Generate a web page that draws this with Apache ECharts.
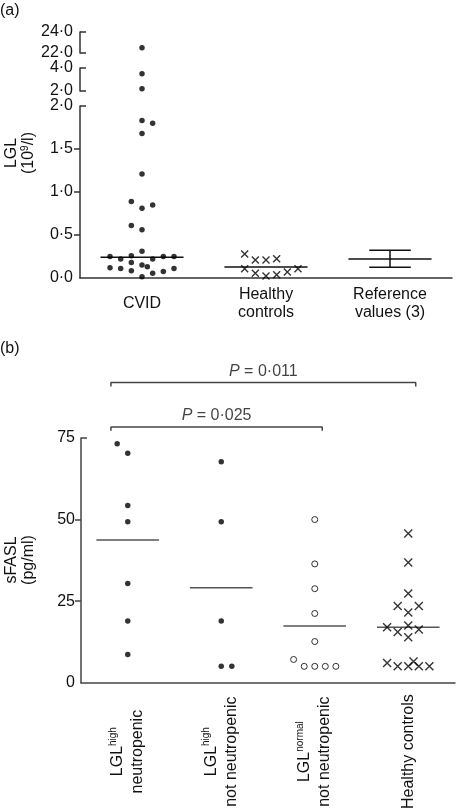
<!DOCTYPE html>
<html><head><meta charset="utf-8">
<script src="https://cdn.jsdelivr.net/npm/echarts@6/dist/echarts.min.js"></script>
<style>html,body{margin:0;padding:0;background:#fff}#c{width:456px;height:812px}</style>
</head><body><div id="c"></div>
<script>
// ---------- Panel (a): LGL counts (10^9/l) ----------
const catsA = ['CVID', 'Healthy\ncontrols', 'Reference\nvalues (3)'];
const lglSegments = [[22, 24], [2, 4], [0, 2]];          // broken y-axis segments
const cvidLGL  = [22.5, 3.5, 2.2, 1.83, 1.80, 1.68, 1.21, 0.89, 0.81, 0.85, 0.61, 0.56, 0.31,
                  0.25, 0.22, 0.26, 0.22, 0.25, 0.25, 0.12, 0.11, 0.18, 0.085, 0.15, 0.13, 0.055, 0.075, 0.11, 0.015];
const cvidSlot = [0, 0, 0, 0, 1, 0, 0, -1, 0, 1, -1, 0, 0,
                  -3, -2, -1, 1, 2, 3, -3, -2, -1, -1, 0, 0.5, 1, 2, 3, 0];
const healthyLGL  = [0.28, 0.21, 0.21, 0.225, 0.108, 0.055, 0.023, 0.038, 0.07, 0.108];
const healthySlot = [-2, -1, 0, 1, -2, -1, 0, 1, 2, 3];
const mediansA = [0.24, 0.128];
const refMean = 0.221, refLow = 0.124, refHigh = 0.322;

// ---------- Panel (b): sFASL (pg/ml) ----------
const catsB = [['LGL', 'high', 'neutropenic'], ['LGL', 'high', 'not neutropenic'],
               ['LGL', 'normal', 'not neutropenic'], ['Healthy controls', '', '']];
const sfaslHighNeutro     = [73.2, 70.3, 54.3, 49.3, 30.4, 18.9, 8.6];
const slotHighNeutro      = [-1, 0, 0, 0, 0, 0, 0];
const sfaslHighNotNeutro  = [67.7, 49.3, 18.9, 5, 5];
const slotHighNotNeutro   = [0, 0, 0, 0, 1];
const sfaslNormalNotNeutro = [50, 36.4, 28.8, 21.2, 12.6, 7.1, 5, 5, 5, 5];
const slotNormalNotNeutro  = [0, 0, 0, 0, 0, -2, -1, 0, 1, 2];
const sfaslHealthy = [45.7, 36.8, 27.3, 23.5, 23.5, 21.5, 17, 17.5, 15.5, 16.3, 13.9, 6.0, 5.0, 5.0, 6.5, 5.0, 5.0];
const slotHealthy  = [0, 0, 0, -1, 1, 0, -2, 0, -1, 1, 0, -2, -1, 0, 0.5, 1, 2];
const mediansB = [43.7, 29.1, 17.4, 17];
const yTicksB = [0, 25, 50, 75];
const pTests = [{from: 0, to: 2, p: '0\u00b7025'}, {from: 0, to: 3, p: '0\u00b7011'}];

// ---------- chart ----------
const FONT = '"Liberation Sans", Arial, Helvetica, sans-serif';
const FS = 16;
const AX = '#333';
const SLOT_A = 0.086, SLOT_B = 0.113, HALF = 0.335;
const crossPath = 'path://M0 0L10 10M10 0L0 10';
const fmtA = v => v.toFixed(1).replace('.', '\u00b7');
const pts = (vals, slots, gi, w) => vals.map((v, i) => [gi + slots[i] * w, v]);
const hline = (gi, v, h) => [[gi - h, v], [gi + h, v]];

const axisLineStyle = {color: AX, width: 1.5};
function segYAxis(gi, seg, opts) {
  return Object.assign({
    gridIndex: gi, type: 'value', position: 'left', min: seg[0], max: seg[1], interval: 2,
    axisLine: {show: true, onZero: false, lineStyle: axisLineStyle},
    axisTick: {show: true, inside: true, length: 6, lineStyle: axisLineStyle},
    axisLabel: {formatter: fmtA, margin: 7, fontSize: FS, color: '#111'},
    splitLine: {show: false}
  }, opts || {});
}

const series = [];
const dot = {type: 'scatter', symbol: 'circle', symbolSize: 5.5, itemStyle: {color: '#000'}, clip: false, silent: true};
const cross = {type: 'scatter', symbol: crossPath, symbolSize: 7,
  itemStyle: {color: 'none', borderColor: '#000', borderWidth: 1.4}, clip: false, silent: true};
const seg = (lo, hi, incLo) => cvidLGL.map((v, i) => ({v, s: cvidSlot[i]}))
  .filter(o => (incLo ? o.v >= lo : o.v > lo) && o.v <= hi);
[[0, 0, 22, 24, true], [1, 1, 2, 4, false], [3, 2, 0, 2, true]].forEach(([xi, yi, lo, hi, inc]) => {
  const d = seg(lo, hi, inc);
  series.push(Object.assign({}, dot, {xAxisIndex: xi, yAxisIndex: yi,
    data: d.map(o => [o.s * SLOT_A, o.v])}));
});
series.push(Object.assign({}, cross, {xAxisIndex: 3, yAxisIndex: 2, data: pts(healthyLGL, healthySlot, 1, SLOT_A)}));
const lineS = (xi, yi, data, color, w) => ({type: 'line', xAxisIndex: xi, yAxisIndex: yi, data, symbol: 'none',
  lineStyle: {color, width: w || 1.5}, clip: false, silent: true, z: 1});
mediansA.forEach((m, i) => series.push(lineS(3, 2, hline(i, m, HALF), '#111')));
series.push(lineS(3, 2, hline(2, refMean, HALF), '#111'));
series.push(lineS(3, 2, hline(2, refHigh, HALF / 2), '#111'));
series.push(lineS(3, 2, hline(2, refLow, HALF / 2), '#111'));
series.push(lineS(3, 2, [[2, refLow], [2, refHigh]], '#111'));

// panel b
series.push(Object.assign({}, dot, {xAxisIndex: 5, yAxisIndex: 4, data: pts(sfaslHighNeutro, slotHighNeutro, 0, SLOT_B)}));
series.push(Object.assign({}, dot, {xAxisIndex: 5, yAxisIndex: 4, data: pts(sfaslHighNotNeutro, slotHighNotNeutro, 1, SLOT_B)}));
series.push(Object.assign({}, dot, {xAxisIndex: 5, yAxisIndex: 4, symbolSize: 6,
  itemStyle: {color: '#fff', borderColor: '#000', borderWidth: 1},
  data: pts(sfaslNormalNotNeutro, slotNormalNotNeutro, 2, SLOT_B)}));
series.push(Object.assign({}, cross, {xAxisIndex: 5, yAxisIndex: 4, symbolSize: 8,
  data: pts(sfaslHealthy, slotHealthy, 3, SLOT_B)}));
mediansB.forEach((m, i) => series.push(lineS(5, 4, hline(i, m, HALF), '#555')));
pTests.forEach((t, k) => {
  const lvl = 78.4 + k * 13.6, a = t.from - 0.18, b = t.to + 0.08;
  series.push(lineS(5, 4, [[a, lvl - 1.2], [a, lvl], [b, lvl], [b, lvl - 1.2]], '#444'));
  series.push({type: 'scatter', xAxisIndex: 5, yAxisIndex: 4, symbolSize: 0, clip: false, silent: true,
    data: [[(a + b) / 2, lvl]],
    label: {show: true, position: 'top', distance: 3, formatter: '{i|P} = ' + t.p,
      fontSize: FS, color: '#111', fontFamily: FONT, rich: {i: {fontStyle: 'italic', fontSize: FS, fontFamily: FONT}}}});
});

const catLabelB = (v, i) => {
  const c = catsB[i];
  return c[1] ? '{b|' + c[0] + '}{s|' + c[1] + '}\n{b|' + c[2] + '}' : '{b|' + c[0] + '}';
};

const option = {
  animation: false,
  textStyle: {fontFamily: FONT},
  grid: [
    {left: 80, top: 32, width: 372, height: 21},
    {left: 80, top: 68, width: 372, height: 23},
    {left: 80, top: 106, width: 372, height: 172},
    {left: 81, top: 438, width: 374, height: 248}
  ],
  xAxis: [
    {gridIndex: 0, type: 'value', min: -0.5, max: 2.5, show: false},
    {gridIndex: 1, type: 'value', min: -0.5, max: 2.5, show: false},
    {gridIndex: 2, type: 'category', data: catsA, axisLine: {onZero: false, lineStyle: axisLineStyle}, axisTick: {show: false},
      axisLabel: {margin: 26, verticalAlign: 'middle', lineHeight: 18, fontSize: FS, color: '#111', interval: 0}},
    {gridIndex: 2, type: 'value', min: -0.5, max: 2.5, show: false},
    {gridIndex: 3, type: 'category', data: catsB.map(c => c.join(' ')),
      axisLine: {onZero: false, lineStyle: {color: '#444', width: 1.5}},
      axisTick: {show: false},
      axisLabel: {interval: 0, rotate: 90, align: 'center', verticalAlign: 'middle', margin: 69, formatter: catLabelB,
        rich: {b: {fontSize: FS, color: '#111', lineHeight: 20, fontFamily: FONT},
               s: {fontSize: 10, color: '#111', verticalAlign: 'top', lineHeight: 20, fontFamily: FONT}}}},
    {gridIndex: 3, type: 'value', min: -0.5, max: 3.5, show: false}
  ],
  yAxis: [
    segYAxis(0, lglSegments[0]),
    segYAxis(1, lglSegments[1]),
    segYAxis(2, lglSegments[2], {interval: 0.5,
      axisTick: {show: true, inside: false, length: 6, lineStyle: axisLineStyle, customValues: [0.5, 1, 1.5]}}),
    {gridIndex: 2, type: 'value', position: 'left', min: 0, max: 2, axisLine: {show: false, onZero: false},
      axisLabel: {show: false}, splitLine: {show: false},
      axisTick: {show: true, inside: true, length: 6, lineStyle: axisLineStyle, customValues: [2]}},
    {gridIndex: 3, type: 'value', position: 'left', min: yTicksB[0], max: yTicksB[3], interval: 25,
      axisLine: {show: true, onZero: false, lineStyle: {color: '#444', width: 1.5}},
      axisTick: {show: true, inside: false, length: 6, lineStyle: {color: '#444', width: 1.5}, customValues: [25, 50]},
      axisLabel: {margin: 6, fontSize: FS, color: '#111'}, splitLine: {show: false}},
    {gridIndex: 3, type: 'value', position: 'left', min: yTicksB[0], max: yTicksB[3],
      axisLine: {show: false, onZero: false}, axisLabel: {show: false}, splitLine: {show: false},
      axisTick: {show: true, inside: true, length: 6, lineStyle: {color: '#444', width: 1.5}, customValues: [75]}}
  ],
  graphic: [
    {type: 'text', left: 0, top: 3, style: {text: '(a)', fontSize: FS, fill: '#111', fontFamily: FONT}},
    {type: 'text', left: 0, top: 341, style: {text: '(b)', fontSize: FS, fill: '#111', fontFamily: FONT}},
    {type: 'text', x: 20, y: 153, rotation: Math.PI / 2,
      style: {text: '{n|LGL}\n{n|(10}{s|9}{n|/l)}', align: 'center', verticalAlign: 'middle', fill: '#111',
        rich: {n: {fontSize: FS, lineHeight: 17, fontFamily: FONT, fill: '#111'},
               s: {fontSize: 10, lineHeight: 17, verticalAlign: 'top', fontFamily: FONT, fill: '#111'}}}},
    {type: 'text', x: 20, y: 560, rotation: Math.PI / 2,
      style: {text: 'sFASL\n(pg/ml)', align: 'center', verticalAlign: 'middle', fontSize: FS, lineHeight: 17,
        fill: '#111', fontFamily: FONT}}
  ],
  series
};
const chart = echarts.init(document.getElementById('c'));
chart.setOption(option);
</script>
</body></html>
